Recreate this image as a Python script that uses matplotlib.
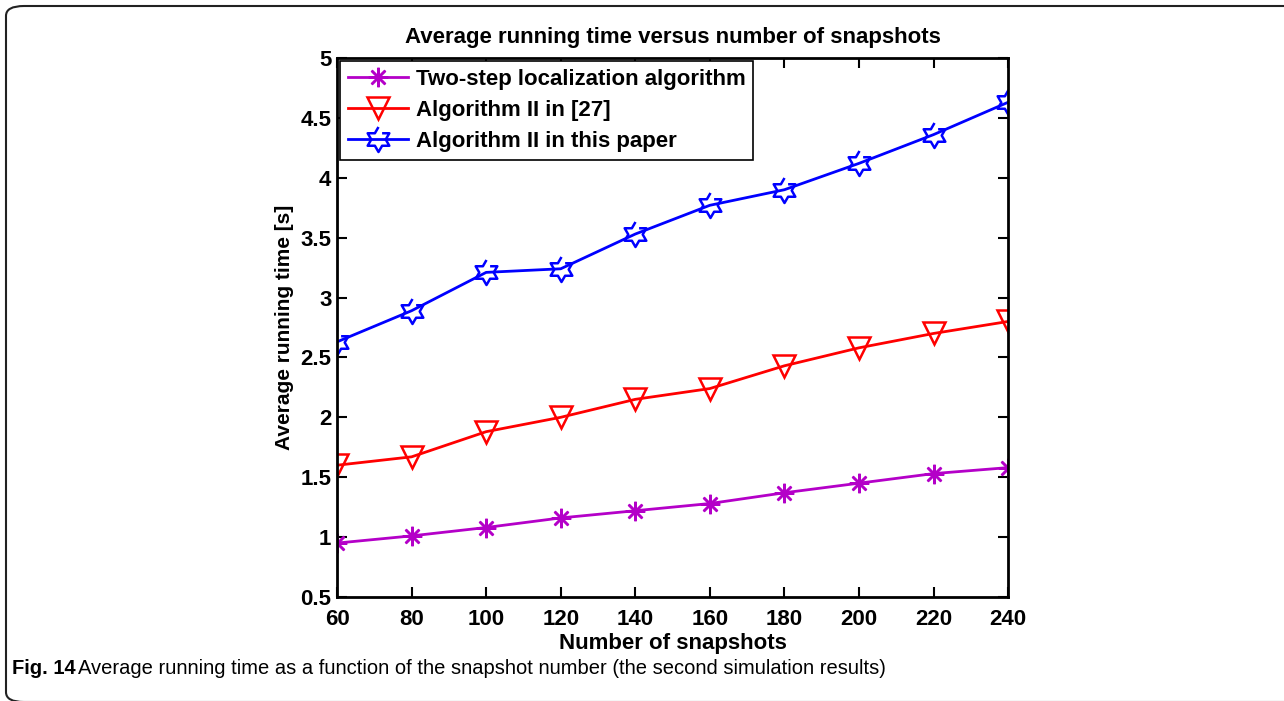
import numpy as np
import matplotlib
matplotlib.use('Agg')
import matplotlib.pyplot as plt
from matplotlib.patches import FancyBboxPatch

plt.rcParams['font.family'] = ['Liberation Sans', 'DejaVu Sans']

snapshots = [60, 80, 100, 120, 140, 160, 180, 200, 220, 240]
two_step  = [0.95, 1.01, 1.08, 1.16, 1.22, 1.28, 1.37, 1.45, 1.53, 1.58]
alg_27    = [1.60, 1.67, 1.88, 2.00, 2.15, 2.24, 2.43, 2.58, 2.70, 2.80]
alg_this  = [2.63, 2.89, 3.21, 3.24, 3.53, 3.77, 3.90, 4.12, 4.36, 4.63]

labels = ['Two-step localization algorithm', 'Algorithm II in [27]',
          'Algorithm II in this paper']

# six pointed star outline (matlab 'hexagram')
ang = np.deg2rad(90 + 30 * np.arange(12))
rad = np.where(np.arange(12) % 2 == 0, 1.0, 1 / np.sqrt(3))
hexagram = list(zip(rad * np.cos(ang), rad * np.sin(ang)))

fig = plt.figure(figsize=(12.84, 7.01), dpi=100)
ax = fig.add_axes([0.2625, 0.1484, 0.5226, 0.7689])

ax.plot(snapshots, two_step, color='#b400c8', lw=2, marker=(8, 2, 0),
        ms=14, mew=1.8, label=labels[0])
ax.plot(snapshots, alg_27, color='#ff0000', lw=2, marker='v', ms=16,
        mfc='none', mew=1.8, label=labels[1])
ax.plot(snapshots, alg_this, color='#0000ff', lw=2, marker=hexagram, ms=18,
        mfc='none', mew=1.8, label=labels[2])

ax.set_xlim(60, 240)
ax.set_ylim(0.5, 5)
ax.set_xticks(snapshots)
ax.set_yticks(np.arange(0.5, 5.01, 0.5))
ax.set_yticklabels(['0.5', '1', '1.5', '2', '2.5', '3', '3.5', '4', '4.5', '5'])
ax.tick_params(direction='in', top=True, right=True, length=7, width=1.5,
               labelsize=16)
ax.tick_params(axis='x', pad=9)
ax.tick_params(axis='y', pad=4)
for lab in ax.get_xticklabels() + ax.get_yticklabels():
    lab.set_fontweight('bold')
for sp in ax.spines.values():
    sp.set_linewidth(2)

ax.set_title('Average running time versus number of snapshots',
             fontsize=16, fontweight='bold', pad=11)
ax.set_xlabel('Number of snapshots', fontsize=16, fontweight='bold', labelpad=2)
ax.set_ylabel('Average running time [s]', fontsize=15, fontweight='bold',
              labelpad=5)

leg = ax.legend(loc='upper left', prop={'size': 16, 'weight': 'bold'},
                fancybox=False, edgecolor='black', framealpha=1,
                borderaxespad=0.15, handlelength=2.7, labelspacing=0.45,
                borderpad=0.35, handletextpad=0.35)
leg.get_frame().set_linewidth(1.2)

# outer frame and caption
frame = FancyBboxPatch((6 / 1284, -1 / 701), 1.1, (696 / 701),
                       boxstyle='round,pad=0,rounding_size=0.014',
                       transform=fig.transFigure, fill=False,
                       edgecolor='#222222', lw=1.5, clip_on=False)
fig.patches.append(frame)

fig.text(12 / 1284, 1 - 668 / 701, 'Fig. 14', fontsize=14.5, fontweight='bold',
         va='center', ha='left')
fig.text(78 / 1284, 1 - 668 / 701,
         'Average running time as a function of the snapshot number '
         '(the second simulation results)',
         fontsize=14.5, va='center', ha='left')

fig.savefig('out.png', dpi=100)
